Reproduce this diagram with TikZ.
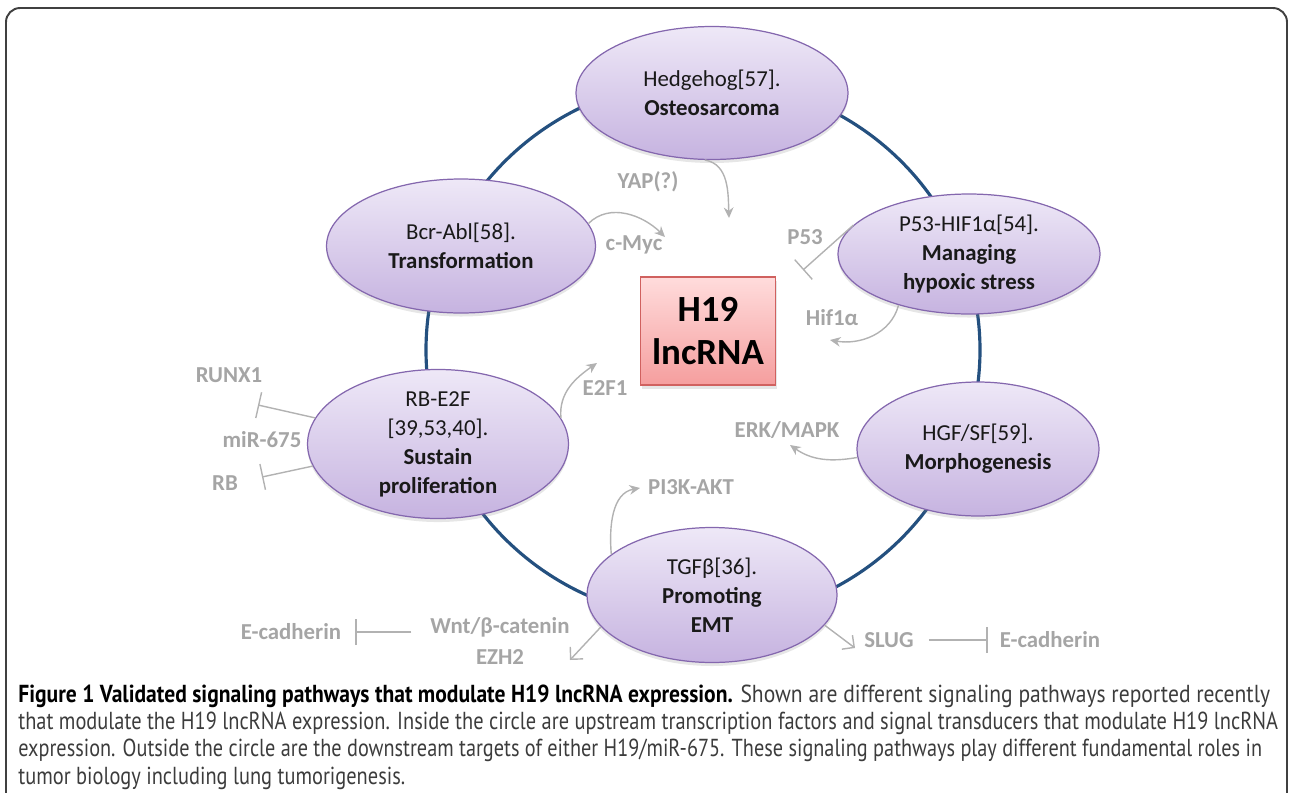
\documentclass[tikz,border=0pt]{standalone}
\usepackage{amsmath}
\usepackage{graphicx}
\usepackage{fontspec}
\setmainfont{Carlito}
\newfontfamily\capfont{PT Sans}
\usetikzlibrary{arrows.meta,shapes.geometric,shadows}

\definecolor{ringblue}{HTML}{24507F}
\definecolor{lavtop}{HTML}{EEE8F7}
\definecolor{lavbot}{HTML}{C6B3E0}
\definecolor{lavline}{HTML}{8467AE}
\definecolor{pinktop}{HTML}{FFDCDC}
\definecolor{pinkbot}{HTML}{F59E9E}
\definecolor{pinkline}{HTML}{D0615F}
\definecolor{greytxt}{HTML}{A5A5A5}
\definecolor{greyline}{HTML}{B2B2B2}
\definecolor{captxt}{HTML}{3C3C3C}

\tikzset{
  pathway/.style={ellipse, draw=lavline, line width=0.7pt, top color=lavtop, bottom color=lavbot,
    align=center, inner sep=0pt, text=black!90, font=\fontsize{13}{16.5}\selectfont,
    drop shadow={shadow xshift=0pt, shadow yshift=-2pt, opacity=0.2}},
  target/.style={text=greytxt, font=\bfseries\fontsize{13}{15.5}\selectfont, inner sep=1pt},
  act/.style={draw=greyline, line width=0.8pt, -{Stealth[length=6pt,width=5.5pt]}},
  opn/.style={draw=greyline, line width=0.8pt, -{Straight Barb[length=5pt,width=10pt]}},
  inh/.style={draw=greyline, line width=0.8pt, -{Bar[width=15pt]}},
  ring/.style={draw=ringblue, line width=1.8pt},
  capline/.style={anchor=base west, inner sep=0pt, text=captxt, font=\capfont\fontsize{14}{16}\selectfont}
}

\begin{document}
\begin{tikzpicture}[x=0.02cm, y=0.02cm]
\useasboundingbox (0,0) rectangle (1289,-792);
\draw[black!75, line width=1.1pt, rounded corners=8pt] (6,-8) rectangle (1287,-820);

% the circle
\draw[ring] (703,-350) ellipse [x radius=277, y radius=270];

\node[rectangle, draw=pinkline, line width=0.7pt, top color=pinktop, bottom color=pinkbot,
  minimum width=2.7cm, minimum height=2.16cm, align=center, font=\bfseries\fontsize{21}{25}\selectfont,
  drop shadow={shadow xshift=1pt, shadow yshift=-2pt, opacity=0.2}] (h19) at (708,-331) {H19\\lncRNA};

\node[pathway, minimum width=5.44cm, minimum height=2.66cm] (hh) at (712,-93) {Hedgehog[57].\\\textbf{Osteosarcoma}};
\node[pathway, minimum width=5.24cm, minimum height=2.4cm] (p53) at (969,-254) {P53-HIF1α[54].\\\textbf{Managing}\\\textbf{hypoxic stress}};
\node[pathway, minimum width=5.38cm, minimum height=2.68cm] (bcr) at (461,-246) {Bcr-Abl[58].\\\textbf{Transformation}};
\node[pathway, minimum width=5.22cm, minimum height=2.7cm] (rb) at (438,-444) {RB-E2F\\{[}39,53,40{]}.\\\textbf{Sustain}\\\textbf{proliferation}};
\node[pathway, minimum width=4.84cm, minimum height=2.68cm] (hgf) at (978,-449) {HGF/SF[59].\\\textbf{Morphogenesis}};
\node[pathway, minimum width=5.0cm, minimum height=2.7cm] (tgf) at (712,-595) {TGFβ[36].\\\textbf{Promoting}\\\textbf{EMT}};

\node[target] (yap) at (648,-182) {YAP(?)};
\node[target] (myc) at (634,-245) {c-Myc};
\node[target] (p53t) at (805,-237) {P53};
\node[target] (hif) at (832,-318) {Hif1α};
\node[target] (e2f) at (605,-388) {E2F1};
\node[target] (erk) at (787,-430) {ERK/MAPK};
\node[target] (pi3k) at (691,-487) {PI3K-AKT};
\node[target] (runx) at (229,-375) {RUNX1};
\node[target] (mir) at (262,-440) {miR-675};
\node[target] (rbt) at (225,-483) {RB};
\node[target] (wnt) at (500,-627) {Wnt/β-catenin};
\node[target] (ezh) at (500,-657) {EZH2};
\node[target] (ecadl) at (291,-632) {E-cadherin};
\node[target] (slug) at (889,-640) {SLUG};
\node[target] (ecadr) at (1050,-640) {E-cadherin};

\coordinate (yapend) at (729,-218);
\coordinate (mycend) at (665,-237);
\coordinate (p53end) at (803,-270);
\coordinate (hifend) at (830,-340);
\coordinate (e2fend) at (597,-363);
\coordinate (erkend) at (790,-445);
\coordinate (piend) at (640,-488);
\coordinate (runxend) at (258,-405);
\coordinate (rbend) at (262,-477);
\coordinate (wntend) at (570,-660);
\coordinate (slugend) at (855,-648);

\draw[act] (hh.264) to[out=-10,in=92] (yapend);
\draw[act] (bcr.10) to[out=45,in=135] (mycend);
\draw[inh] (p53.166) -- (p53end);
\draw[act] (p53.216) to[out=-105,in=-10] (hifend);
\draw[act] (rb.12) to[out=95,in=215] (e2fend);
\draw[act] (hgf.184) to[out=190,in=-35] (erkend);
\draw[act] (tgf.158) to[out=95,in=190] (piend);
\draw[inh] (rb.168) -- (runxend);
\draw[inh] (rb.190) -- (rbend);
\draw[opn] (tgf.196) -- (wntend);
\draw[opn] (tgf.-15) -- (slugend);
\draw[inh, shorten <=0.34cm, shorten >=0.24cm] (wnt.west |- ecadl.east) -- (ecadl.east);
\draw[inh, shorten <=0.26cm, shorten >=0.2cm] (slug.east) -- (ecadr.west);

% caption
\node[capline] (cap1) at (18,-702) {\resizebox{25.04cm}{\height}{{\color{black}\bfseries Figure 1 Validated signaling pathways that modulate H19 lncRNA expression.} Shown are different signaling pathways reported recently}};
\node[capline] (cap2) at (18,-729) {\resizebox{25.2cm}{\height}{that modulate the H19 lncRNA expression. Inside the circle are upstream transcription factors and signal transducers that modulate H19 lncRNA}};
\node[capline] (cap3) at (18,-756) {\resizebox{24.88cm}{\height}{expression. Outside the circle are the downstream targets of either H19/miR-675. These signaling pathways play different fundamental roles in}};
\node[capline] (cap4) at (18,-784) {\resizebox{7.74cm}{\height}{tumor biology including lung tumorigenesis.}};
\end{tikzpicture}
\end{document}
